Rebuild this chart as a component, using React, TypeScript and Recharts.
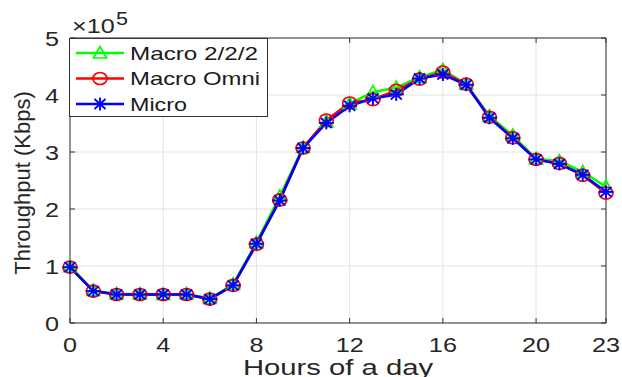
import { LineChart, Line, XAxis, YAxis, CartesianGrid, ReferenceLine, Legend } from "recharts";

// hours of the day
const hours = [0, 1, 2, 3, 4, 5, 6, 7, 8, 9, 10, 11, 12, 13, 14, 15, 16, 17, 18, 19, 20, 21, 22, 23];

// throughput in Kbps (×10^5)
const macro222 = [
  99000, 57000, 51000, 51000, 50000, 51000, 43000, 68000, 141000, 222000, 308000, 353000,
  385000, 405000, 413000, 431000, 444000, 419000, 363000, 329000, 288000, 284000, 265000, 239000,
];
const macroOmni = [
  98000, 56000, 50000, 50000, 50000, 50000, 42000, 66000, 138000, 216000, 307000, 356000,
  386000, 392000, 408000, 428000, 440000, 419000, 361000, 325000, 287000, 280000, 259000, 228000,
];
const micro = [
  98000, 56000, 50000, 50000, 50000, 50000, 42000, 66000, 139000, 215000, 307000, 351000,
  381000, 394000, 401000, 429000, 436000, 418000, 360000, 324000, 287000, 279000, 260000, 230000,
];

const xTicks = [0, 4, 8, 12, 16, 20, 23];
const yTicks = [0, 100000, 200000, 300000, 400000, 500000];

const data = hours.map((h, i) => ({
  hour: h,
  macro222: macro222[i],
  macroOmni: macroOmni[i],
  micro: micro[i],
}));

const W = 622;
const H = 377;
const TOP = 38;
const BOTTOM = 323;
const LEFT = 70;
const RIGHT = 606;
const AXIS = "#333333";
const FONT = "'Liberation Sans', Arial, sans-serif";
const GREEN = "#00ff00";
const RED = "#ff0000";
const BLUE = "#0000ff";

const Triangle = ({ cx, cy, color }: { cx: number; cy: number; color: string }) => (
  <polygon
    points={`${cx},${cy - 6.5} ${cx - 6.5},${cy + 5} ${cx + 6.5},${cy + 5}`}
    fill="none"
    stroke={color}
    strokeWidth={1.7}
  />
);

const Circle = ({ cx, cy, color }: { cx: number; cy: number; color: string }) => (
  <ellipse cx={cx} cy={cy} rx={7} ry={6} fill="none" stroke={color} strokeWidth={1.7} />
);

const Star = ({ cx, cy, color }: { cx: number; cy: number; color: string }) => (
  <g stroke={color} strokeWidth={1.9}>
    <line x1={cx - 7.5} y1={cy} x2={cx + 7.5} y2={cy} />
    <line x1={cx} y1={cy - 6.5} x2={cx} y2={cy + 6.5} />
    <line x1={cx - 5.5} y1={cy - 5} x2={cx + 5.5} y2={cy + 5} />
    <line x1={cx - 5.5} y1={cy + 5} x2={cx + 5.5} y2={cy - 5} />
  </g>
);

const XTick = (props: any) => {
  const { x, payload } = props;
  return (
    <g>
      <line x1={x} x2={x} y1={BOTTOM} y2={BOTTOM - 5} stroke={AXIS} />
      <line x1={x} x2={x} y1={TOP} y2={TOP + 5} stroke={AXIS} />
      <text
        transform={`translate(${x},352) scale(1.2,1)`}
        textAnchor="middle"
        fontFamily={FONT}
        fontSize={21}
        fill="#262626"
      >
        {payload.value}
      </text>
    </g>
  );
};

const YTick = (props: any) => {
  const { y, payload } = props;
  return (
    <g>
      <line x1={LEFT} x2={LEFT + 5} y1={y} y2={y} stroke={AXIS} />
      <line x1={RIGHT} x2={RIGHT - 5} y1={y} y2={y} stroke={AXIS} />
      <text
        transform={`translate(59,${y + 7.5}) scale(1.2,1)`}
        textAnchor="end"
        fontFamily={FONT}
        fontSize={21}
        fill="#262626"
      >
        {payload.value / 100000}
      </text>
    </g>
  );
};

const legendItems = [
  { name: "Macro 2/2/2", color: GREEN, len: 128 },
  { name: "Macro Omni", color: RED, len: 130 },
  { name: "Micro", color: BLUE, len: 57 },
];

const LegendBox = () => (
  <svg width={200} height={80} style={{ display: "block" }}>
    <rect x={0.5} y={0.5} width={198} height={78} fill="#ffffff" stroke={AXIS} />
    {legendItems.map((item, i) => {
      const cy = 15 + i * 25.5;
      return (
        <g key={item.name}>
          <line x1={7} x2={55} y1={cy} y2={cy} stroke={item.color} strokeWidth={2.5} />
          {i === 0 && <Triangle cx={31} cy={cy} color={item.color} />}
          {i === 1 && <Circle cx={31} cy={cy} color={item.color} />}
          {i === 2 && <Star cx={31} cy={cy} color={item.color} />}
          <text
            x={61}
            y={cy + 6.5}
            fontFamily={FONT}
            fontSize={18.5}
            fill="#1a1a1a"
            textLength={item.len}
            lengthAdjust="spacingAndGlyphs"
          >
            {item.name}
          </text>
        </g>
      );
    })}
  </svg>
);

export default function App() {
  return (
    <div style={{ position: "absolute", left: 0, top: 0, width: W, height: H, background: "#ffffff" }}>
      <LineChart width={W} height={H} data={data} margin={{ top: TOP, right: W - RIGHT, left: 0, bottom: 0 }}>
        <CartesianGrid stroke="#e3e3e3" strokeWidth={1} />
        <XAxis
          dataKey="hour"
          type="number"
          domain={[0, 23]}
          ticks={xTicks}
          height={H - BOTTOM}
          tickSize={0}
          tick={<XTick />}
          axisLine={{ stroke: AXIS }}
          tickLine={false}
          interval={0}
        />
        <YAxis
          type="number"
          domain={[0, 500000]}
          ticks={yTicks}
          width={LEFT}
          tickSize={0}
          tick={<YTick />}
          axisLine={{ stroke: AXIS }}
          tickLine={false}
          interval={0}
        />
        <ReferenceLine y={500000} stroke={AXIS} />
        <ReferenceLine x={23} stroke={AXIS} />
        <Legend
          layout="vertical"
          align="center"
          verticalAlign="middle"
          content={<LegendBox />}
          wrapperStyle={{ left: LEFT - 1, top: TOP, width: 200, height: 80 }}
        />
        <Line
          dataKey="macro222"
          stroke={GREEN}
          strokeWidth={2.6}
          isAnimationActive={false}
          activeDot={false}
          dot={(p: any) => <Triangle key={`g${p.index}`} cx={p.cx} cy={p.cy} color={GREEN} />}
        />
        <Line
          dataKey="macroOmni"
          stroke={RED}
          strokeWidth={2.6}
          isAnimationActive={false}
          activeDot={false}
          dot={(p: any) => <Circle key={`r${p.index}`} cx={p.cx} cy={p.cy} color={RED} />}
        />
        <Line
          dataKey="micro"
          stroke={BLUE}
          strokeWidth={2.6}
          isAnimationActive={false}
          activeDot={false}
          dot={(p: any) => <Star key={`b${p.index}`} cx={p.cx} cy={p.cy} color={BLUE} />}
        />
      </LineChart>
      <svg width={80} height={36} style={{ position: "absolute", left: 72, top: 4 }}>
        <text transform="translate(0,29) scale(1.2,1)" fontSize={21} fontFamily={FONT} fill="#262626">
          ×10
        </text>
        <text transform="translate(44,21) scale(1.2,1)" fontSize={18} fontFamily={FONT} fill="#262626">
          5
        </text>
      </svg>
      <svg width={W} height={H} style={{ position: "absolute", left: 0, top: 0, pointerEvents: "none" }}>
        <text
          transform="translate(30,183) rotate(-90)"
          textAnchor="middle"
          fontFamily={FONT}
          fontSize={22}
          fill="#262626"
        >
          Throughput (Kbps)
        </text>
        <text
          x={338}
          y={375}
          textAnchor="middle"
          fontFamily={FONT}
          fontSize={22}
          fill="#262626"
          textLength={190}
          lengthAdjust="spacingAndGlyphs"
        >
          Hours of a day
        </text>
      </svg>
    </div>
  );
}
